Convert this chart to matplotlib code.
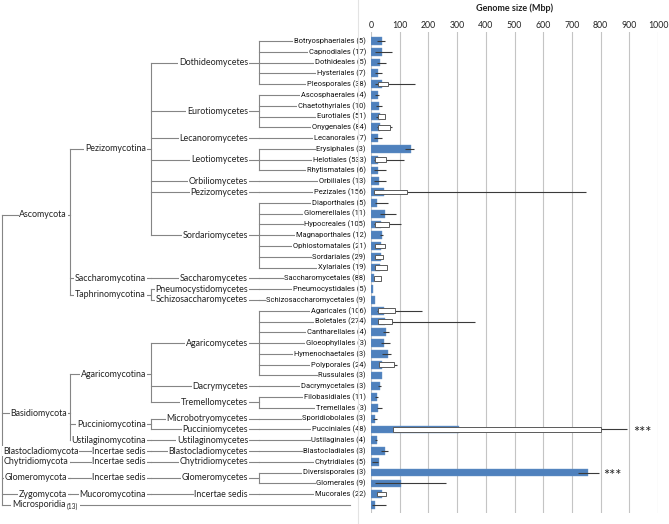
import numpy as np
import matplotlib
matplotlib.use("Agg")
import matplotlib.pyplot as plt
from matplotlib.lines import Line2D

plt.rcParams['font.family'] = ['Lato', 'DejaVu Sans']

# ---------------- data ----------------
orders = ["Botryosphaeriales (5)", "Capnodiales (17)", "Dothideales (5)", "Hysteriales (7)",
          "Pleosporales (38)", "Ascosphaerales (4)", "Chaetothyriales (10)", "Eurotiales (51)",
          "Onygenales (84)", "Lecanorales (7)", "Erysiphales (3)", "Helotiales (533)",
          "Rhytismatales (6)", "Orbiliales (13)", "Pezizales (156)", "Diaporthales (5)",
          "Glomerellales (11)", "Hypocreales (105)", "Magnaporthales (12)", "Ophiostomatales (21)",
          "Sordariales (29)", "Xylariales (19)", "Saccharomycetales (88)", "Pneumocystidales (5)",
          "Schizosaccharomycetales (9)", "Agaricales (106)", "Boletales (274)", "Cantharellales (4)",
          "Gloeophyllales (3)", "Hymenochaetales (3)", "Polyporales (24)", "Russulales (3)",
          "Dacrymycetales (3)", "Filobasidiales (11)", "Tremellales (3)", "Sporidiobolales (3)",
          "Pucciniales (48)", "Ustilaginales (4)", "Blastocladiales (3)", "Chytridiales (5)",
          "Diversisporales (3)", "Glomerales (9)", "Mucorales (22)", ""]

mean_size = [39, 37, 31, 23, 37, 23, 28, 31, 30, 25, 140, 25, 25, 28, 45, 22, 49, 35, 39, 35,
             34, 31, 12, 7, 13, 46, 49, 51, 45, 58, 39, 37, 32, 20, 25, 14, 305, 20, 49, 29,
             756, 105, 37, 14]

nan = np.nan
box_low = [nan, nan, nan, nan, 23, nan, nan, 23, 23, nan, nan, 14, nan, nan, 12, nan, nan, 14,
           nan, 14, 14, 14, 9, nan, nan, 23, 23, nan, nan, nan, 28, nan, nan, nan, nan, nan,
           78, nan, nan, nan, nan, nan, 22, nan]
box_high = [nan, nan, nan, nan, 60, nan, nan, 49, 66, nan, nan, 51, nan, nan, 124, nan, nan, 64,
            nan, 49, 43, 57, 34, nan, nan, 83, 74, nan, nan, nan, 81, nan, nan, nan, nan, nan,
            800, nan, nan, nan, nan, nan, 54, nan]

whisk_low = [20, 14, 20, 14, 14, 14, 16, 17, 20, 12, 118, 12, 12, 12, 12, 14, 31, 12, 31, nan,
             nan, nan, nan, nan, nan, 20, 23, 43, 35, 39, 28, nan, 25, 14, 20, 8, 78, 14, 35, 2,
             720, 14, nan, 2]
whisk_high = [49, 72, 51, 40, 153, 28, 40, 49, 74, 40, 149, 114, 54, 51, 749, 58, 87, 106, 43, nan,
              nan, nan, nan, nan, nan, 176, 364, 64, 66, 69, 89, nan, 35, 23, 37, 20, 891, 22, 58, 23,
              793, 263, nan, 51]

significant = ["Pucciniales (48)", "Diversisporales (3)"]
sig_pos = [915, 808]

x_ticks = [0, 100, 200, 300, 400, 500, 600, 700, 800, 900, 1000]

# taxonomy tree (leaves are order row indices)
tree = [
    ("Ascomycota", [
        ("Pezizomycotina", [
            ("Dothideomycetes", [0, 1, 2, 3, 4]),
            ("Eurotiomycetes", [5, 6, 7, 8]),
            ("Lecanoromycetes", [9]),
            ("Leotiomycetes", [10, 11, 12]),
            ("Orbiliomycetes", [13]),
            ("Pezizomycetes", [14]),
            ("Sordariomycetes", [15, 16, 17, 18, 19, 20, 21])]),
        ("Saccharomycotina", [("Saccharomycetes", [22])]),
        ("Taphrinomycotina", [("Pneumocystidomycetes", [23]),
                              ("Schizosaccharomycetes", [24])])]),
    ("Basidiomycota", [
        ("Agaricomycotina", [
            ("Agaricomycetes", [25, 26, 27, 28, 29, 30, 31]),
            ("Dacrymycetes", [32]),
            ("Tremellomycetes", [33, 34])]),
        ("Pucciniomycotina", [("Microbotryomycetes", [35]), ("Pucciniomycetes", [36])]),
        ("Ustilaginomycotina", [("Ustilaginomycetes", [37])])]),
    ("Blastocladiomycota", [("Incertae sedis", [("Blastocladiomycetes", [38])])]),
    ("Chytridiomycota", [("Incertae sedis", [("Chytridiomycetes", [39])])]),
    ("Glomeromycota", [("Incertae sedis", [("Glomeromycetes", [40, 41])])]),
    ("Zygomycota", [("Mucoromycotina", [("Incertae sedis", [42])])]),
]

# ---------------- layout ----------------
W, H = 669, 524
fig = plt.figure(figsize=(W / 100, H / 100), dpi=100)
fig.patch.set_facecolor('white')

ax_left_px, ax_right_px = 371, 658
ax_top_px, ax_bot_px = 32, 513
row0_px, row_step = 41, 10.79
y_top = (ax_top_px - row0_px) / row_step
y_bot = (ax_bot_px - row0_px) / row_step
ax_rect_y = 1 - ax_bot_px / H
ax_rect_h = (ax_bot_px - ax_top_px) / H

# tree axes (x in pixels)
tax = fig.add_axes([0, ax_rect_y, ax_left_px / W, ax_rect_h])
tax.set_xlim(0, ax_left_px)
tax.set_ylim(y_bot, y_top)
tax.axis('off')

# bar axes
bax = fig.add_axes([ax_left_px / W, ax_rect_y, (ax_right_px - ax_left_px) / W, ax_rect_h])
bax.set_facecolor('none')
bax.set_zorder(3)

LINE_C = '#858585'
TXT_C = '#222222'
col_x = [2, 70, 151, 259, 366]          # bracket x per depth
label_right = [67, 146, 248, 366]       # right edge of labels per depth
fs_big = 6.4
fs_order = 5.45
ORDER_FONT = ['Roboto', 'DejaVu Sans']
overrides_y = {"Ascomycota": 16.1, "Basidiomycota": 34.5, "Agaricomycotina": 30.9}
phylum_left = {"Blastocladiomycota": 3, "Chytridiomycota": 4}

bb = dict(facecolor='white', edgecolor='none', pad=0.6)


def draw_node(node, depth):
    """depth: 1 phylum, 2 subphylum, 3 class; returns y."""
    name, children = node
    ys = []
    for ch in children:
        if isinstance(ch, tuple):
            ys.append(draw_node(ch, depth + 1))
        else:
            ys.append(ch)
            tax.plot([col_x[3], col_x[4]], [ch, ch], color=LINE_C, lw=0.8, zorder=1)
            tax.text(366, ch, orders[ch], ha='right', va='center', fontsize=fs_order,
                     family=ORDER_FONT, color='#111111', bbox=bb, zorder=3)
    if len(children) > 1:
        tax.plot([col_x[depth], col_x[depth]], [ys[0], ys[-1]], color=LINE_C, lw=0.8, zorder=1)
    y = overrides_y.get(name, (ys[0] + ys[-1]) / 2)
    tax.plot([col_x[depth - 1], col_x[depth]], [y, y], color=LINE_C, lw=0.8, zorder=1)
    if name in phylum_left:
        tax.text(phylum_left[name], y, name, ha='left', va='center', fontsize=fs_big,
                 color=TXT_C, bbox=bb, zorder=3)
    else:
        tax.text(label_right[depth - 1], y, name, ha='right', va='center', fontsize=fs_big,
                 color=TXT_C, bbox=bb, zorder=3)
    return y


phylum_ys = [draw_node(n, 1) for n in tree]
# Microsporidia
tax.plot([2, 350], [43, 43], color=LINE_C, lw=0.8, zorder=1)
tax.text(12, 43, "Microsporidia", ha='left', va='center', fontsize=fs_big, color=TXT_C,
         bbox=bb, zorder=3)
tax.text(67, 43.1, "(13)", ha='left', va='center', fontsize=4.8, color=TXT_C,
         bbox=dict(facecolor='white', edgecolor='none', pad=1.0), zorder=4)
tax.plot([2, 2], [phylum_ys[0], 43], color=LINE_C, lw=0.8, zorder=1)

# ---------------- bars ----------------
rows = np.arange(len(mean_size))
bax.barh(rows, mean_size, height=0.72, color='#4f81bd', edgecolor='#6b96c9', lw=0.3, zorder=2)
wl = np.array(whisk_low, float)
wh = np.array(whisk_high, float)
m = ~np.isnan(wl)
bax.hlines(rows[m], wl[m], wh[m], color='#3a3a3a', lw=0.8, zorder=3)
bl = np.array(box_low, float)
bh = np.array(box_high, float)
mb = ~np.isnan(bl)
bax.barh(rows[mb], bh[mb] - bl[mb], left=bl[mb], height=0.42, color='white',
         edgecolor='#5a5a5a', lw=0.7, zorder=4)
for name, xp in zip(significant, sig_pos):
    bax.text(xp, orders.index(name) + 0.3, "***", ha='left', va='center', fontsize=10.5,
             color='#222222', zorder=5)

bax.set_xlim(0, 1000)
bax.set_ylim(y_bot, y_top)
bax.set_xticks(x_ticks)
bax.set_xticklabels([str(t) for t in x_ticks], fontsize=6.3, color=TXT_C)
bax.xaxis.tick_top()
bax.tick_params(axis='x', length=0, pad=1.5)
bax.set_yticks([])
for s in bax.spines.values():
    s.set_visible(False)
bax.grid(axis='x', color='#c4c4c4', lw=0.8, zorder=0)
bax.set_axisbelow(True)

fig.text((ax_left_px + ax_right_px) / 2 / W, 1 - 8 / H, "Genome size (Mbp)", ha='center',
         va='center', fontsize=6.5, fontweight='bold', color=TXT_C)

fig.add_artist(Line2D([358 / W, 358 / W], [0, 1], transform=fig.transFigure,
                      color='#e3e3e3', lw=0.8))

fig.savefig("out.png", dpi=100, facecolor='white')
